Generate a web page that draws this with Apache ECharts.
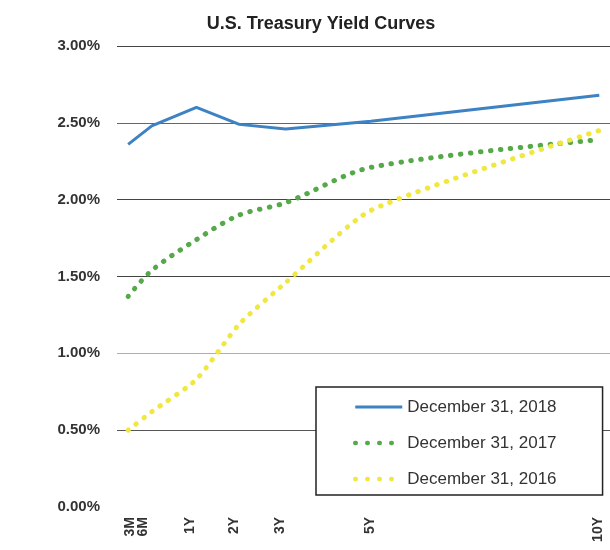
<!DOCTYPE html>
<html>
<head>
<meta charset="utf-8">
<script src="https://cdn.jsdelivr.net/npm/echarts@6/dist/echarts.min.js"></script>
<style>
html,body{margin:0;padding:0;background:#fff;}
#chart{width:610px;height:550px;}
</style>
</head>
<body>
<div id="chart"></div>
<script>
// Tenors and their positions along the (unevenly spaced) maturity axis
var tenors = ['3M', '6M', '1Y', '2Y', '3Y', '5Y', '10Y'];
var tenorPos = [0, 0.53, 1.53, 2.49, 3.53, 5.44, 10.56];
var tenorLabelPos = [0.05, 0.34, 1.38, 2.38, 3.40, 5.42, 10.53];

// Yields in percent
var yields2018 = [2.36, 2.48, 2.60, 2.49, 2.46, 2.51, 2.68];
var yields2017 = [1.37, 1.54, 1.74, 1.90, 1.98, 2.21, 2.39];
var yields2016 = [0.50, 0.62, 0.83, 1.19, 1.46, 1.93, 2.45];

function pairs(vals) {
  return vals.map(function (v, i) { return [tenorPos[i], v]; });
}

var chart = echarts.init(document.getElementById('chart'));
var fontFam = '"Liberation Sans", Arial, sans-serif';

function labelFor(v) {
  var best = 0, d = Infinity;
  for (var i = 0; i < tenorLabelPos.length; i++) {
    var dd = Math.abs(tenorLabelPos[i] - v);
    if (dd < d) { d = dd; best = i; }
  }
  return tenors[best];
}

// split label positions into two interleaved sets so close labels are not hidden
var labelsA = tenorLabelPos.filter(function (p, i) { return i !== 1; });
var labelsB = tenorLabelPos.filter(function (p, i) { return i === 1; });

function makeXAxis(vals) {
  return {
    type: 'value',
    min: -0.25,
    max: 10.8,
    position: 'bottom',
    axisLine: { show: false },
    axisTick: { show: false },
    splitLine: { show: false },
    axisLabel: {
      customValues: vals,
      rotate: 90,
      margin: 10,
      hideOverlap: false,
      showMinLabel: true,
      showMaxLabel: true,
      fontFamily: fontFam,
      fontSize: 14,
      fontWeight: 'bold',
      color: '#333',
      formatter: labelFor
    }
  };
}

chart.setOption({
  animation: false,
  backgroundColor: '#fff',
  title: {
    text: 'U.S. Treasury Yield Curves',
    left: 316,
    top: 10,
    textAlign: 'center',
    textStyle: { fontFamily: fontFam, fontSize: 18, fontWeight: 'bold', color: '#222' }
  },
  grid: { left: 117, right: -5, top: 46, bottom: 43, containLabel: false },
  xAxis: [makeXAxis(labelsA), makeXAxis(labelsB)],
  yAxis: {
    type: 'value',
    min: 0,
    max: 3,
    interval: 0.5,
    axisLine: { show: false },
    axisTick: { show: false },
    axisLabel: {
      margin: 17,
      fontFamily: fontFam,
      fontSize: 15,
      fontWeight: 'bold',
      color: '#333',
      formatter: function (v) { return v.toFixed(2) + '%'; }
    },
    splitLine: {
      show: true,
      lineStyle: {
        width: 1,
        color: ['rgba(0,0,0,0)', '#555', '#9fb2c4', '#444', '#444', '#666', '#444']
      }
    }
  },
  legend: {
    orient: 'vertical',
    left: 316,
    top: 387,
    padding: [11, 46, 7, 37],
    itemWidth: 47,
    itemHeight: 18,
    itemGap: 18,
    backgroundColor: '#fff',
    borderColor: '#222',
    borderWidth: 1.5,
    borderRadius: 0,
    itemStyle: { opacity: 0 },
    textStyle: { fontFamily: fontFam, fontSize: 17, color: '#333', lineHeight: 18 },
    data: [
      { name: 'December 31, 2018', lineStyle: { width: 3, color: '#3d82c3' } },
      { name: 'December 31, 2017', lineStyle: { type: [0.5, 11.5], width: 4.5, cap: 'round', color: '#56a94a' } },
      { name: 'December 31, 2016', lineStyle: { type: [0.5, 11.5], width: 4.5, cap: 'round', color: '#f0e840' } }
    ]
  },
  series: [
    {
      name: 'December 31, 2018',
      type: 'line',
      data: pairs(yields2018),
      symbol: 'none',
      smooth: false,
      lineStyle: { color: '#3d82c3', width: 3 },
      itemStyle: { color: '#3d82c3' },
      z: 4
    },
    {
      name: 'December 31, 2017',
      type: 'line',
      data: pairs(yields2017),
      symbol: 'none',
      smooth: 0.3,
      lineStyle: { color: '#56a94a', width: 5, type: [0.5, 9.5], cap: 'round' },
      itemStyle: { color: '#56a94a' },
      z: 3
    },
    {
      name: 'December 31, 2016',
      type: 'line',
      data: pairs(yields2016),
      symbol: 'none',
      smooth: 0.2,
      lineStyle: { color: '#f0e840', width: 5, type: [0.5, 9.5], cap: 'round' },
      itemStyle: { color: '#f0e840' },
      z: 3
    }
  ]
});
</script>
</body>
</html>
